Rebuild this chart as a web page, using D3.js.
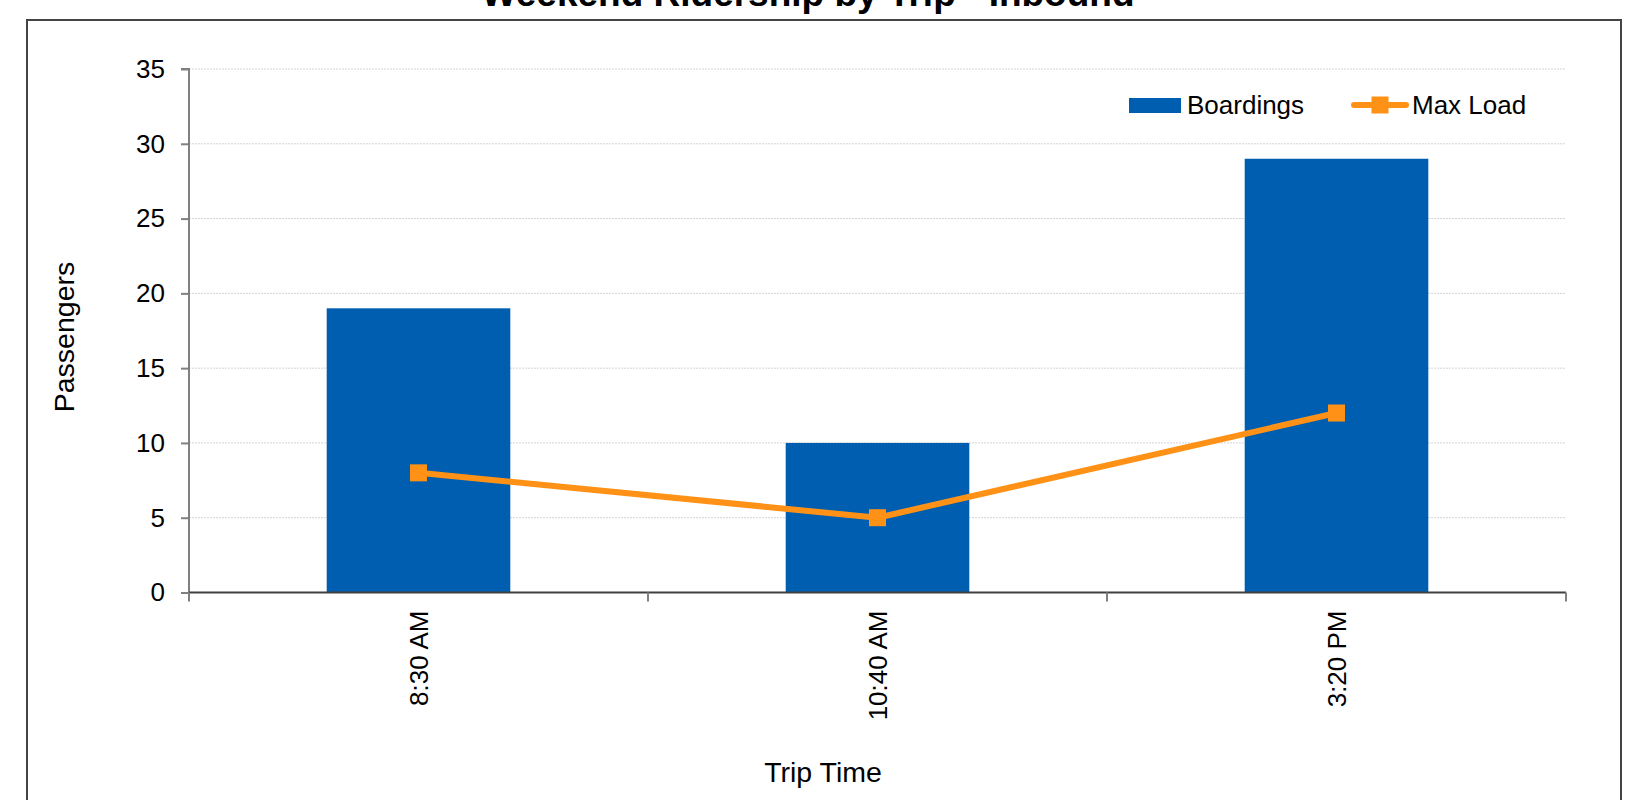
<!DOCTYPE html>
<html>
<head>
<meta charset="utf-8">
<script src="https://cdn.jsdelivr.net/npm/d3@7"></script>
<style>
  html, body { margin: 0; padding: 0; background: #fff; }
  svg { display: block; font-family: "Liberation Sans", Arial, sans-serif; }
</style>
</head>
<body>
<svg id="chart" width="1627" height="800"></svg>
<script>
const categories = ["8:30 AM", "10:40 AM", "3:20 PM"];
const boardings = [19, 10, 29];
const maxLoad = [8, 5, 12];
const yTicks = [0, 5, 10, 15, 20, 25, 30, 35];
const titleText = "Weekend Ridership by Trip - Inbound";
const xTitle = "Trip Time";
const yTitle = "Passengers";
const seriesNames = ["Boardings", "Max Load"];

const barColor = "#005EB0";
const lineColor = "#FF9116";

const svg = d3.select("#chart");

// Outer frame
svg.append("rect")
  .attr("x", 27).attr("y", 20)
  .attr("width", 1594).attr("height", 820)
  .attr("fill", "none").attr("stroke", "#454545").attr("stroke-width", 2);

// Title (partially cut off at the top)
svg.append("text")
  .attr("x", 808).attr("y", 6)
  .attr("text-anchor", "middle")
  .attr("font-size", 37).attr("font-weight", "bold")
  .attr("fill", "#000")
  .text(titleText);

const plot = { left: 189, right: 1566, top: 69, bottom: 592.5 };

const x = d3.scaleBand()
  .domain(categories)
  .range([plot.left, plot.right])
  .paddingInner(0.6)
  .paddingOuter(0.3);

const y = d3.scaleLinear()
  .domain([0, 35])
  .range([plot.bottom, plot.top]);

// Gridlines
svg.append("g")
  .selectAll("line")
  .data(yTicks.filter(d => d > 0))
  .join("line")
  .attr("x1", plot.left).attr("x2", plot.right)
  .attr("y1", d => y(d)).attr("y2", d => y(d))
  .attr("stroke", "#D4D4D4").attr("stroke-width", 1)
  .attr("stroke-dasharray", "2,1");

// Bars
svg.append("g")
  .selectAll("rect")
  .data(boardings)
  .join("rect")
  .attr("x", (d, i) => x(categories[i]))
  .attr("y", d => y(d))
  .attr("width", x.bandwidth())
  .attr("height", d => y(0) - y(d))
  .attr("fill", barColor);

// Y axis
const yAxis = d3.axisLeft(y).tickValues(yTicks).tickSize(8).tickPadding(16);
const gy = svg.append("g")
  .attr("transform", `translate(${plot.left},0)`)
  .call(yAxis);
gy.select(".domain").attr("stroke", "#808080").attr("stroke-width", 2)
  .attr("d", `M-8,${plot.top}H0V${plot.bottom}`);
gy.selectAll(".tick line").attr("stroke", "#808080").attr("stroke-width", 2);
gy.selectAll(".tick text")
  .attr("font-size", 26).attr("fill", "#000")
  .attr("font-family", "Liberation Sans, Arial, sans-serif");

// X axis (category boundaries as ticks)
const xAxis = d3.axisBottom(x).tickSize(0).tickPadding(0);
const gx = svg.append("g")
  .attr("transform", `translate(0,${plot.bottom})`)
  .call(xAxis);
gx.select(".domain").attr("stroke", "#404040").attr("stroke-width", 2)
  .attr("d", `M${plot.left},0H${plot.right}`);
gx.selectAll(".tick text")
  .attr("font-size", 26).attr("fill", "#000")
  .attr("font-family", "Liberation Sans, Arial, sans-serif")
  .attr("text-anchor", "end")
  .attr("transform", "translate(0,18) rotate(-90)")
  .attr("x", 0).attr("y", 0).attr("dy", "0.35em");

// boundary ticks
const step = x.step();
const boundaries = d3.range(categories.length + 1).map(i => i === 0 ? plot.left : x(categories[i - 1]) + x.bandwidth() + step * x.paddingInner() / 2);
boundaries[boundaries.length - 1] = plot.right;
svg.append("g")
  .selectAll("line")
  .data(boundaries)
  .join("line")
  .attr("x1", d => d).attr("x2", d => d)
  .attr("y1", plot.bottom).attr("y2", plot.bottom + 9)
  .attr("stroke", "#808080").attr("stroke-width", 2);

// Line series
const cx = (d, i) => x(categories[i]) + x.bandwidth() / 2;
const line = d3.line().x(cx).y(d => y(d));
svg.append("path")
  .datum(maxLoad)
  .attr("d", line)
  .attr("fill", "none")
  .attr("stroke", lineColor)
  .attr("stroke-width", 6)
  .attr("stroke-linejoin", "round");

const ms = 17;
svg.append("g")
  .selectAll("rect")
  .data(maxLoad)
  .join("rect")
  .attr("x", (d, i) => cx(d, i) - ms / 2)
  .attr("y", d => y(d) - ms / 2)
  .attr("width", ms).attr("height", ms)
  .attr("fill", lineColor);

// Axis titles
svg.append("text")
  .attr("transform", "translate(74,337) rotate(-90)")
  .attr("text-anchor", "middle")
  .attr("font-size", 28.5).attr("fill", "#000")
  .text(yTitle);

svg.append("text")
  .attr("x", 823).attr("y", 782)
  .attr("text-anchor", "middle")
  .attr("font-size", 28.5).attr("fill", "#000")
  .text(xTitle);

// Legend
const lg = svg.append("g");
lg.append("rect")
  .attr("x", 1129).attr("y", 98)
  .attr("width", 52).attr("height", 15)
  .attr("fill", barColor);
lg.append("text")
  .attr("x", 1187).attr("y", 105).attr("dy", "0.35em")
  .attr("font-size", 26).attr("fill", "#000")
  .text(seriesNames[0]);
lg.append("line")
  .attr("x1", 1354).attr("x2", 1406)
  .attr("y1", 105).attr("y2", 105)
  .attr("stroke", lineColor).attr("stroke-width", 6)
  .attr("stroke-linecap", "round");
lg.append("rect")
  .attr("x", 1380 - ms / 2).attr("y", 105 - ms / 2)
  .attr("width", ms).attr("height", ms)
  .attr("fill", lineColor);
lg.append("text")
  .attr("x", 1412).attr("y", 105).attr("dy", "0.35em")
  .attr("font-size", 26).attr("fill", "#000")
  .text(seriesNames[1]);
</script>
</body>
</html>
